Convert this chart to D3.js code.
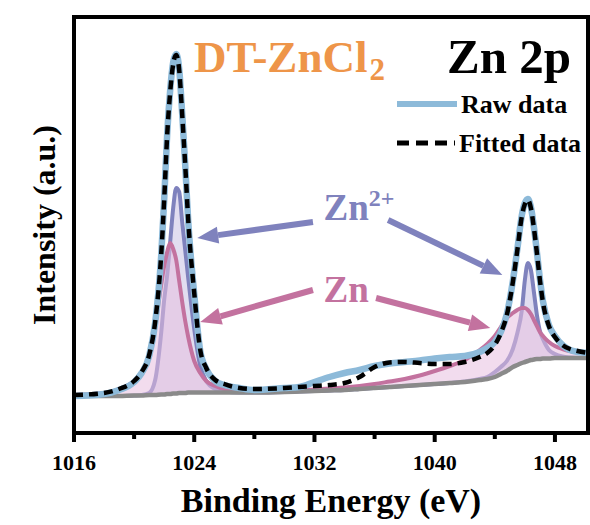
<!DOCTYPE html>
<html>
<head>
<meta charset="utf-8">
<script src="https://cdn.jsdelivr.net/npm/d3@7"></script>
<style>
	body { margin: 0; background: #fff; }
</style>
</head>
<body>
<div id="chart"></div>
<script>

// binding energy grid (eV) shared by every series
var energy = [1016, 1018, 1019, 1020, 1020.5, 1021, 1021.4, 1021.8, 1022.0, 1022.2, 1022.4, 1022.6, 1022.8, 1023.0, 1023.2, 1023.4, 1023.6, 1024.0, 1024.4, 1024.8, 1025.4, 1026, 1027, 1028, 1030, 1031, 1032, 1033, 1034, 1035, 1036, 1037, 1038, 1039, 1040, 1041, 1042, 1043, 1043.5, 1044, 1044.4, 1044.8, 1045.2, 1045.5, 1045.8, 1046.0, 1046.2, 1046.4, 1046.6, 1046.8, 1047.0, 1047.2, 1047.6, 1048.0, 1048.5, 1049, 1049.5, 1050.2];

var rawData = [37, 39, 43, 51, 60, 77, 110, 177, 233, 299, 343, 371, 379, 364, 319, 268, 212, 139, 82, 64, 52, 48, 45, 43, 45, 46, 51, 56, 60, 63, 67, 69.5, 71, 72.5, 74.5, 76, 77, 81, 85, 91, 101, 119, 152, 184, 218, 230, 234, 226, 206, 181, 154, 132, 108, 97, 88, 83, 81, 80];

var fittedData = [38, 40, 44, 52, 61, 78, 111, 178, 233, 298, 341, 369, 378, 363, 318, 268, 213, 140, 83, 65, 53, 49, 45, 44, 45, 46, 47, 48, 50, 56, 66, 70.5, 71, 70, 69, 69, 71, 76, 80, 88, 100, 118, 151, 183, 217, 229, 233, 225, 205, 180, 153, 131, 107, 96, 88, 84, 82, 80];

var background = [37, 37, 37, 37.5, 37.5, 38, 38, 38.5, 38.5, 39, 39, 39.5, 39.5, 40, 40, 40, 40.5, 40.5, 40.5, 40.5, 40.5, 40.5, 40.5, 40.5, 41, 41.5, 42, 42.5, 43, 44, 45, 46, 47, 48, 49, 50, 51, 53, 54, 56, 59, 62, 66, 68, 70, 71, 72, 73, 73.5, 74, 74, 74.5, 74.5, 75, 75, 75, 75, 75];

var zn2Peak = [37, 37, 37, 37.5, 38, 40, 53, 100, 133, 158, 191, 225, 245, 241, 211, 183, 155, 104, 67, 52, 44, 41.5, 40.5, 40.5, 41, 41.5, 42, 42.5, 43, 44, 45, 46, 47, 48, 49, 50, 51.5, 54, 56, 61, 66, 72, 84, 100, 123, 153, 170, 163, 141, 118, 102, 94, 83, 79, 76.5, 75.5, 75, 75];

var znPeak = [38, 40, 44, 52, 61, 78, 108, 148, 167, 181, 190, 184, 173, 152, 131, 112, 96, 72, 60, 52, 47, 44, 42.5, 41.5, 42, 42.5, 43.5, 44.5, 45.5, 47, 49, 51.5, 54, 57.5, 62, 67, 73, 83, 89, 97, 106, 115, 120, 123, 125, 125, 123, 119, 113, 107, 101, 97, 91, 87, 84, 82, 81, 80];

var xTicks = [1016, 1024, 1032, 1040, 1048];
var xMinorTicks = [1020, 1028, 1036, 1044];

// annotation arrows, [from energy, from intensity, to energy, to intensity]
var zn2Arrows = [[1031.9, 211, 1024.2, 195], [1036.9, 213, 1044.5, 158]];
var znArrows = [[1031.9, 143, 1024.4, 111], [1036.1, 135, 1043.7, 105]];

var CHART = (function(CHART, undefined)
{
	var W = 590, H = 525;
	var left = 74, right = 588, top = 17, bottom = 433;
	var FONT = "'Liberation Serif'";

	var colRaw = "#8dbad9";
	var colZn2 = "#7f82bd";
	var colZn = "#c3729f";
	var colBg = "#8a8a8a";

	// font set on each text node
	CHART.label = function(parent, size)
	{
		return parent.append("text")
		.attr("font-family", FONT)
		.attr("font-weight", "bold")
		.attr("font-size", size);
	}

	CHART.init = function()
	{
		var svg = d3.select("#chart").append("svg")
		.attr("width", W)
		.attr("height", H);

		var x = d3.scaleLinear().domain([1016, 1050.2]).range([left, right]);
		var y = d3.scaleLinear().domain([0, 416]).range([bottom, top]);

		var pts = function(vals)
		{
			return energy.map(function(e, i) { return [e, vals[i]]; });
		}

		var line = d3.line()
		.x(function(d) { return x(d[0]); })
		.y(function(d) { return y(d[1]); })
		.curve(d3.curveMonotoneX);

		var area = function(vals)
		{
			return d3.area()
			.x(function(d, i) { return x(energy[i]); })
			.y0(function(d, i) { return y(background[i]); })
			.y1(function(d) { return y(d); })
			.curve(d3.curveMonotoneX)(vals);
		}

		svg.append("defs").append("clipPath")
		.attr("id", "plotclip")
		.append("rect")
		.attr("x", left)
		.attr("y", top)
		.attr("width", right - left)
		.attr("height", bottom - top);

		var plot = svg.append("g")
		.attr("clip-path", "url(#plotclip)");

		// Zn2+ component
		plot.append("path")
		.attr("d", area(zn2Peak))
		.attr("fill", "#b3a9da")
		.attr("fill-opacity", 0.4);

		plot.append("path")
		.attr("d", line(pts(zn2Peak)))
		.attr("fill", "none")
		.attr("stroke", colZn2)
		.attr("stroke-width", 4);

		// Zn component
		plot.append("path")
		.attr("d", area(znPeak))
		.attr("fill", "#e7bfe0")
		.attr("fill-opacity", 0.55);

		plot.append("path")
		.attr("d", line(pts(znPeak)))
		.attr("fill", "none")
		.attr("stroke", colZn)
		.attr("stroke-width", 4);

		plot.append("path")
		.attr("d", line(pts(background)))
		.attr("fill", "none")
		.attr("stroke", colBg)
		.attr("stroke-width", 4.5);

		plot.append("path")
		.attr("d", line(pts(rawData)))
		.attr("fill", "none")
		.attr("stroke", colRaw)
		.attr("stroke-width", 6.5)
		.attr("stroke-linejoin", "round");

		plot.append("path")
		.attr("d", line(pts(fittedData)))
		.attr("fill", "none")
		.attr("stroke", "#000")
		.attr("stroke-width", 4.5)
		.attr("stroke-dasharray", "9,6");

		// arrows
		var drawArrow = function(a, col)
		{
			var x1 = x(a[0]), y1 = y(a[1]), x2 = x(a[2]), y2 = y(a[3]);
			var ang = Math.atan2(y2 - y1, x2 - x1);
			var len = 21, half = 8.5;
			var bx = x2 - len * Math.cos(ang), by = y2 - len * Math.sin(ang);

			svg.append("line")
			.attr("x1", x1)
			.attr("y1", y1)
			.attr("x2", bx)
			.attr("y2", by)
			.attr("stroke", col)
			.attr("stroke-width", 6);

			svg.append("path")
			.attr("d", "M" + x2 + "," + y2
				+ "L" + (bx + half * Math.sin(ang)) + "," + (by - half * Math.cos(ang))
				+ "L" + (bx - half * Math.sin(ang)) + "," + (by + half * Math.cos(ang)) + "Z")
			.attr("fill", col);
		}

		zn2Arrows.forEach(function(a) { drawArrow(a, colZn2); });
		znArrows.forEach(function(a) { drawArrow(a, colZn); });

		var zn2Label = CHART.label(svg, 37)
		.attr("x", x(1032.6))
		.attr("y", y(213))
		.attr("fill", colZn2);
		zn2Label.append("tspan").text("Zn");
		zn2Label.append("tspan")
		.attr("dy", -14)
		.attr("font-size", 24)
		.text("2+");

		CHART.label(svg, 37)
		.attr("x", x(1032.6))
		.attr("y", y(131))
		.attr("fill", colZn)
		.text("Zn");

		// frame
		svg.append("rect")
		.attr("x", left)
		.attr("y", top)
		.attr("width", right - left)
		.attr("height", bottom - top)
		.attr("fill", "none")
		.attr("stroke", "#000")
		.attr("stroke-width", 4);

		// x axis
		var xAxis = svg.append("g")
		.attr("transform", "translate(0," + bottom + ")");

		xAxis.selectAll(".major")
		.data(xTicks)
		.enter().append("line")
		.attr("x1", function(d) { return x(d); })
		.attr("x2", function(d) { return x(d); })
		.attr("y1", 0)
		.attr("y2", 9)
		.attr("stroke", "#000")
		.attr("stroke-width", 4);

		xAxis.selectAll(".minor")
		.data(xMinorTicks)
		.enter().append("line")
		.attr("x1", function(d) { return x(d); })
		.attr("x2", function(d) { return x(d); })
		.attr("y1", 0)
		.attr("y2", 6)
		.attr("stroke", "#000")
		.attr("stroke-width", 4);

		xTicks.forEach(function(d)
		{
			CHART.label(xAxis, 22)
			.attr("x", x(d))
			.attr("y", 37)
			.attr("text-anchor", "middle")
			.text(d);
		})

		CHART.label(svg, 34)
		.attr("x", (left + right) / 2)
		.attr("y", 512)
		.attr("text-anchor", "middle")
		.text("Binding Energy (eV)");

		CHART.label(svg, 32)
		.attr("transform", "translate(55," + ((top + bottom) / 2) + ") rotate(-90)")
		.attr("text-anchor", "middle")
		.text("Intensity (a.u.)");

		// titles
		var title = CHART.label(svg, 45)
		.attr("x", 194)
		.attr("y", 72)
		.attr("fill", "#ee9549");
		title.append("tspan").text("DT-ZnCl");
		title.append("tspan")
		.attr("dx", 2)
		.attr("dy", 8)
		.attr("font-size", 31)
		.text("2");

		CHART.label(svg, 49)
		.attr("x", 447)
		.attr("y", 73)
		.text("Zn 2p");

		// legend
		svg.append("line")
		.attr("x1", 397)
		.attr("x2", 457)
		.attr("y1", 104)
		.attr("y2", 104)
		.attr("stroke", colRaw)
		.attr("stroke-width", 6);

		CHART.label(svg, 26)
		.attr("x", 461)
		.attr("y", 113)
		.text("Raw data");

		svg.append("line")
		.attr("x1", 397)
		.attr("x2", 455)
		.attr("y1", 143)
		.attr("y2", 143)
		.attr("stroke", "#000")
		.attr("stroke-width", 5)
		.attr("stroke-dasharray", "12,7");

		CHART.label(svg, 26)
		.attr("x", 459)
		.attr("y", 152)
		.text("Fitted data");
	}

	return CHART;

}(CHART || {}));

CHART.init();
</script>
</body>
</html>
